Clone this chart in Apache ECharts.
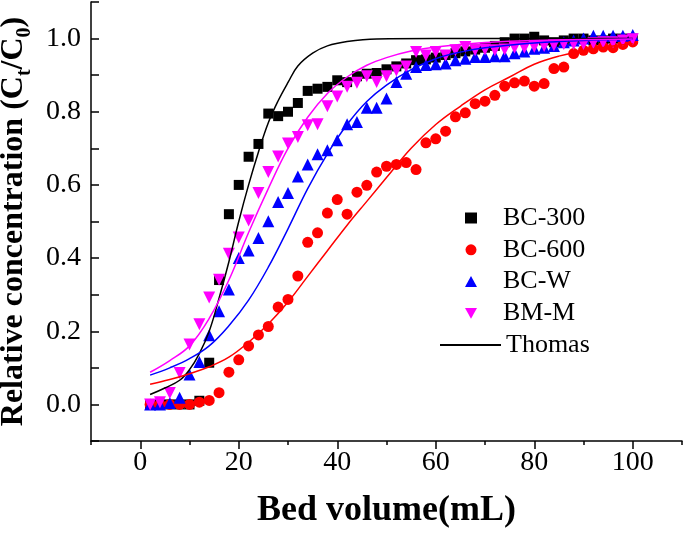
<!DOCTYPE html>
<html><head><meta charset="utf-8">
<script src="https://cdn.jsdelivr.net/npm/echarts@6/dist/echarts.min.js"></script>
<style>html,body{margin:0;padding:0;background:#fff}#c{width:685px;height:535px}</style>
</head><body><div id="c"></div>
<script>
const bedVolume = [2,4,6,8,10,12,14,16,18,20,22,24,26,28,30,32,34,36,38,40,42,44,46,48,50,52,54,56,58,60,62,64,66,68,70,72,74,76,78,80,82,84,86,88,90,92,94,96,98,100];
const bc300 = [0,0,0,0,0,0.01,0.114,0.34,0.52,0.60, 0.677,0.712,0.795,0.788,0.80,0.824,0.857,0.863,0.868,0.886, 0.881,0.897,0.904,0.906,0.916,0.924,0.932,0.941,0.943,0.948, 0.955,0.96,0.965,0.97,0.975,0.98,0.99,1.0,1.0,1.005, 0.995,0.99,0.995,1.0,1.0,0.995,0.995,1.0,1.0,1.0];
const bc600 = [0,0,0,0,0,0.006,0.011,0.032,0.088,0.122, 0.16,0.19,0.213,0.266,0.287,0.351,0.443,0.469,0.523,0.56, 0.52,0.58,0.599,0.635,0.651,0.656,0.661,0.642,0.715,0.726, 0.747,0.786,0.797,0.822,0.829,0.845,0.87,0.879,0.884,0.87, 0.877,0.918,0.922,0.959,0.968,0.972,0.977,0.975,0.984,0.991];
const bcW = [0,0,0.004,0.018,0.082,0.116,0.189,0.255,0.314,0.40, 0.421,0.455,0.501,0.553,0.578,0.623,0.656,0.684,0.695,0.722, 0.766,0.772,0.811,0.811,0.836,0.881,0.904,0.922,0.928,0.93, 0.932,0.941,0.945,0.95,0.95,0.952,0.952,0.96,0.965,0.972, 0.975,0.98,0.99,0.995,1.0,1.008,1.008,1.008,1.008,1.01];
const bmM = [0,0.006,0.031,0.086,0.164,0.219,0.292,0.341,0.412,0.456, 0.503,0.578,0.635,0.678,0.713,0.731,0.763,0.766,0.815,0.842, 0.868,0.879,0.897,0.881,0.897,0.913,0.924,0.963,0.954,0.963, 0.954,0.968,0.977,0.968,0.97,0.968,0.97,0.975,0.975,0.978, 0.98,0.982,0.985,0.985,0.985,0.988,0.99,0.99,0.995,0.998];

const fitX300 = [2,5,8,10,12,14,16,18,20,22,24,26,28,30,32,35,38,42,48,60,100];
const fitY300 = [0.027,0.045,0.066,0.095,0.139,0.2,0.29,0.39,0.5,0.6,0.69,0.77,0.83,0.88,0.925,0.96,0.98,0.992,0.999,1.0,1.0];
const fitX600 = [2,6,10,14,18,22,26,30,34,38,42,46,50,55,60,65,70,75,80,85,90,95,100];
const fitY600 = [0.055,0.068,0.084,0.103,0.129,0.17,0.22,0.28,0.35,0.42,0.49,0.555,0.62,0.7,0.765,0.815,0.86,0.895,0.93,0.952,0.966,0.978,0.986];
const fitXW = [2,6,10,14,18,22,26,30,34,38,42,46,50,55,60,65,70,80,90,100];
const fitYW = [0.08,0.1,0.125,0.16,0.215,0.285,0.375,0.48,0.59,0.685,0.765,0.828,0.873,0.915,0.945,0.963,0.975,0.988,0.995,0.998];
const fitXM = [2,6,10,14,18,22,26,30,34,38,42,46,50,55,60,70,80,100];
const fitYM = [0.088,0.12,0.16,0.235,0.34,0.47,0.59,0.7,0.785,0.85,0.895,0.927,0.948,0.966,0.977,0.989,0.995,0.999];

const xMajor = [0,20,40,60,80,100];
const xMinor = [-10,10,30,50,70,90,110];

const zip = (a,b) => a.map((v,i)=>[v,b[i]]);
const FONT = '"Liberation Serif","Times New Roman",serif';

const chart = echarts.init(document.getElementById('c'), null, {renderer:'canvas'});
function scatter(name, ys, sym, color, size){
  return {name, type:'scatter', xAxisIndex:0, yAxisIndex:0, data: zip(bedVolume, ys), symbol: sym, symbolSize: size, itemStyle:{color, opacity:1}, z:2};
}
function fit(xs, ys, color){
  return {name:'Thomas', type:'line', xAxisIndex:0, yAxisIndex:0, data: zip(xs, ys), smooth:0.4, symbol:'none', showSymbol:false, lineStyle:{color, width:1.5}, itemStyle:{color}, z:3};
}
const down = 'path://M0,0 L10,0 L5,9 Z';
chart.setOption({
  animation:false,
  backgroundColor:'#fff',
  grid:{left:91, right:3, top:2, bottom:94, containLabel:false, outerBoundsMode:'none'},
  legend:[{
    left:460, top:200, orient:'vertical', itemWidth:12, itemHeight:11, itemGap:5.8,
    textStyle:{fontFamily:FONT, fontSize:26, color:'#000', padding:[0,0,0,21]},
    data:[
      {name:'BC-300', icon:'rect'},
      {name:'BC-600', icon:'circle'},
      {name:'BC-W', icon:'triangle'},
      {name:'BM-M', icon:down}
    ]
  },{
    left:435, top:327, orient:'vertical', itemWidth:61, itemHeight:2,
    textStyle:{fontFamily:FONT, fontSize:26, color:'#000', padding:[0,0,0,0]},
    data:[{name:'Thomas', icon:'rect', itemStyle:{color:'#000'}}]
  }],
  xAxis:[{
    type:'value', min:-10, max:110, interval:10, position:'bottom',
    axisLine:{show:true, onZero:false, lineStyle:{color:'#000', width:1.5}},
    axisTick:{show:true, inside:false, length:8, customValues:xMajor, lineStyle:{color:'#000', width:1.5}},
    axisLabel:{customValues:xMajor, margin:8, fontFamily:FONT, fontSize:28, color:'#000'},
    splitLine:{show:false},
    name:'Bed volume(mL)', nameLocation:'middle', nameGap:52,
    nameTextStyle:{fontFamily:FONT, fontSize:36, fontWeight:'bold', color:'#000'}
  },{
    type:'value', min:-10, max:110, interval:10, position:'bottom',
    axisLine:{show:false, onZero:false},
    axisTick:{show:true, inside:false, length:4, customValues:xMinor, lineStyle:{color:'#000', width:1.5}},
    axisLabel:{show:false}, splitLine:{show:false}
  }],
  yAxis:{
    type:'value', min:-0.1, max:1.1, interval:0.1,
    axisLine:{show:true, onZero:false, lineStyle:{color:'#000', width:1.5}},
    axisTick:{show:true, inside:true, length:8, lineStyle:{color:'#000', width:1.5}},
    axisLabel:{margin:10, fontFamily:FONT, fontSize:28, color:'#000',
      formatter:function(v){ const k=Math.round(v*10); return (k%2===0 && k>=0 && k<=10) ? (k/10).toFixed(1) : ''; }},
    splitLine:{show:false},
    name:'{a|Relative concentration (C}{s|t}{a|/C}{s|0}{a|)}', nameLocation:'middle', nameRotate:90, nameGap:48,
    nameTextStyle:{
      rich:{
        a:{fontFamily:FONT, fontSize:32, fontWeight:'bold', color:'#000', lineHeight:42, verticalAlign:'middle'},
        s:{fontFamily:FONT, fontSize:20, fontWeight:'bold', color:'#000', lineHeight:42, verticalAlign:'bottom'}
      }
    }
  },
  series:[
    scatter('BC-300', bc300, 'rect', '#000000', 10),
    scatter('BC-600', bc600, 'circle', '#ff0000', 11),
    scatter('BC-W', bcW, 'triangle', '#0000ff', 12),
    scatter('BM-M', bmM, down, '#ff00ff', 12),
    fit(fitX300, fitY300, '#000000'),
    fit(fitX600, fitY600, '#ff0000'),
    fit(fitXW, fitYW, '#0000ff'),
    fit(fitXM, fitYM, '#ff00ff')
  ]
});
</script></body></html>
